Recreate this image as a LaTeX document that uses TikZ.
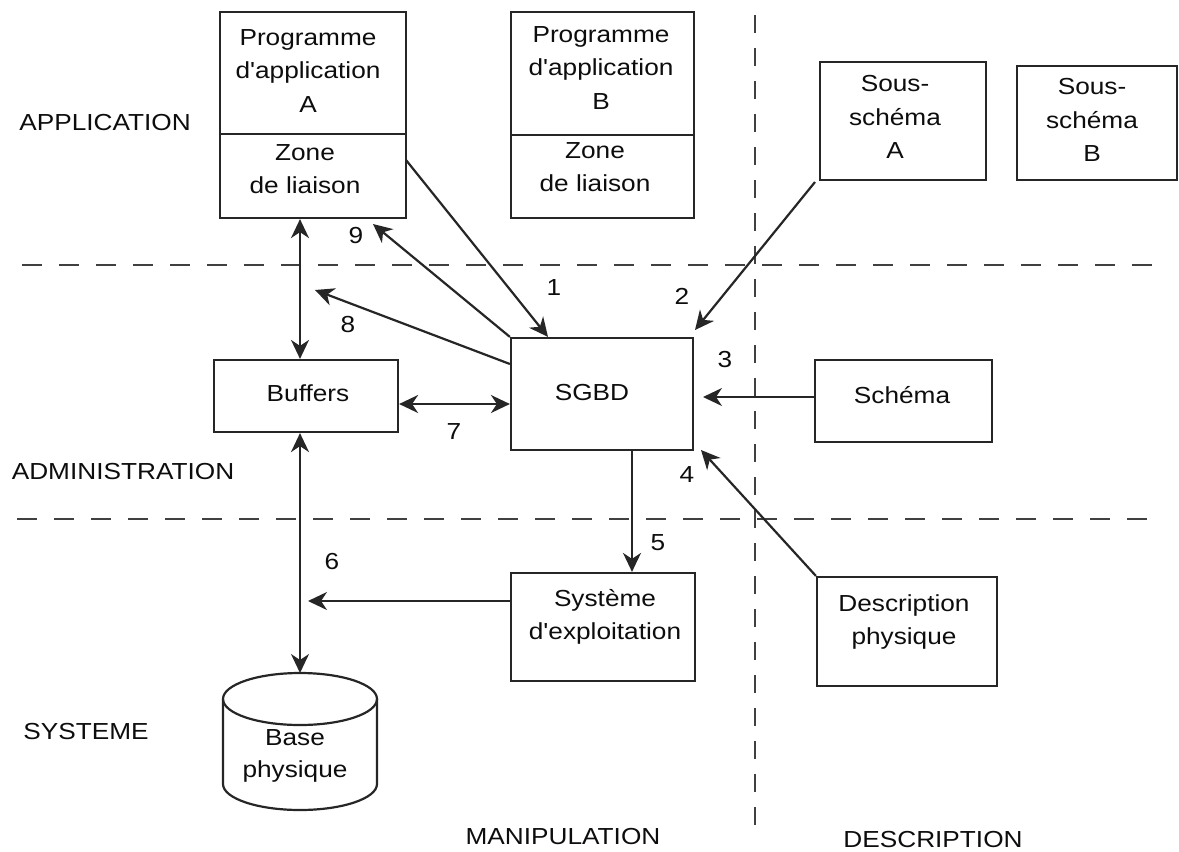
\documentclass[tikz,border=0pt]{standalone}
\usepackage{fontspec}
\setmainfont[FakeStretch=1.13, Ligatures=TeXOff]{Liberation Sans}
\usetikzlibrary{arrows.meta,calc}

\tikzset{
  box/.style={draw=black!85, rectangle},
  txt/.style={align=center},
  arr/.style={draw=black!85, -{Stealth[length=9.5pt,width=9pt,inset=3pt]}},
  darr/.style={draw=black!85, {Stealth[length=9.5pt,width=9pt,inset=3pt]}-{Stealth[length=9.5pt,width=9pt,inset=3pt]}},
  hsep/.style={draw=black!75, dash pattern=on 10pt off 8.5pt},
  vsep/.style={draw=black!75, dash pattern=on 9pt off 7.5pt}
}

\begin{document}
\begin{tikzpicture}[x=0.5pt,y=-0.5pt,
  line width=1.1pt,
  every node/.style={font=\fontsize{11.6}{16.75}\selectfont, text=black!95, inner sep=0pt}]

\useasboundingbox (0,0) rectangle (1179,852);

% separators between levels and columns
\coordinate (h1a) at (22,265);   \coordinate (h1b) at (1162,265);
\coordinate (h2a) at (17,519);   \coordinate (h2b) at (1157,519);
\coordinate (v1a) at (755,15);   \coordinate (v1b) at (755,838);
\draw[hsep] (h1a) -- (h1b);
\draw[hsep] (h2a) -- (h2b);
\draw[vsep] (v1a) -- (v1b);

% level and column titles
\node (lApp)  at (105,123) {APPLICATION};
\node (lAdm)  at (123,472) {ADMINISTRATION};
\node (lSys)  at (86,732)  {SYSTEME};
\node (lMan)  at (563,837) {MANIPULATION};
\node (lDesc) at (933,840) {DESCRIPTION};

% application programs with their link areas
\node[box, minimum width=93pt, minimum height=61pt] (progA) at (313,73) {};
\node[box, minimum width=93pt, minimum height=42pt] (zoneA) at (313,176) {};
\node[txt] at (308,71)  {Programme\\d'application\\A};
\node[txt] at (305,169) {Zone\\de liaison};

\node[box, minimum width=91.5pt, minimum height=61.5pt] (progB) at (602.5,73.5) {};
\node[box, minimum width=91.5pt, minimum height=41.5pt] (zoneB) at (602.5,176.5) {};
\node[txt] at (601,68)  {Programme\\d'application\\B};
\node[txt] at (595,167) {Zone\\de liaison};

% sub-schemas, schema, physical description
\node[box, minimum width=83pt, minimum height=59pt] (sousA) at (903,121) {};
\node[txt] at (895,117) {Sous-\\schéma\\A};
\node[box, minimum width=80pt, minimum height=57pt] (sousB) at (1097,123) {};
\node[txt] at (1092,120) {Sous-\\schéma\\B};
\node[box, minimum width=88.5pt, minimum height=41pt] (schema) at (903.5,401) {};
\node[txt] at (902,395) {Schéma};
\node[box, minimum width=90pt, minimum height=54.5pt] (desc) at (907,631.5) {};
\node[txt] at (904,622) {Description\\physique};

% DBMS, buffers, operating system
\node[box, minimum width=91pt, minimum height=56pt] (sgbd) at (602,394) {};
\node[txt] at (592,393) {SGBD};
\node[box, minimum width=92pt, minimum height=36pt] (buf) at (306,396) {};
\node[txt] at (308,393) {Buffers};
\node[box, minimum width=92pt, minimum height=54pt] (os) at (603,627) {};
\node[txt] at (605,617) {Système\\d'exploitation};

% physical database (cylinder)
\coordinate (baseTop) at (300,673);
\draw[black!85] (300,699) ellipse [x radius=38.5pt, y radius=13pt];
\draw[black!85] (223,699) -- (223,784)
  arc[start angle=180, end angle=360, x radius=38.5pt, y radius=13pt] -- (377,699);
\node[txt, font=\fontsize{11.6}{16}\selectfont] at (295,756) {Base\\physique};

% helper points for connector ends
\coordinate (vx) at (300,0);
\coordinate (s1) at (406,160);
\coordinate (t1) at (548,0);
\coordinate (t9) at (373,224);
\coordinate (y8) at (0,364);
\coordinate (t8) at (315,290);
\coordinate (y7) at (0,404);
\coordinate (s2) at (815,182);
\coordinate (t2) at (695,330);
\coordinate (y3) at (0,397);
\coordinate (t3) at (703,397);
\coordinate (t4) at (701,450);
\coordinate (x5) at (632,0);
\coordinate (y6) at (0,601);
\coordinate (t6) at (308,601);

% connectors
\draw[darr] (zoneA.south -| vx) -- (buf.north -| vx);
\draw[darr] (buf.south -| vx) -- (baseTop);
\draw[arr] (s1) -- (sgbd.north -| t1);
\draw[arr] (sgbd.north west) -- (t9);
\draw[arr] (sgbd.west |- y8) -- (t8);
\draw[darr] (buf.east |- y7) -- (sgbd.west |- y7);
\draw[arr] (s2) -- (t2);
\draw[arr] (schema.west |- y3) -- (t3);
\draw[arr] (desc.north west) -- (t4);
\draw[arr] (sgbd.south -| x5) -- (os.north -| x5);
\draw[arr] (os.west |- y6) -- (t6);

% step numbers
\node (n1) at (554,288) {1};
\node (n2) at (682,296) {2};
\node (n3) at (725,360) {3};
\node (n4) at (687,475) {4};
\node (n5) at (658,543) {5};
\node (n6) at (332,562) {6};
\node (n7) at (454,432) {7};
\node (n8) at (348,325) {8};
\node (n9) at (356,236) {9};
\end{tikzpicture}
\end{document}
